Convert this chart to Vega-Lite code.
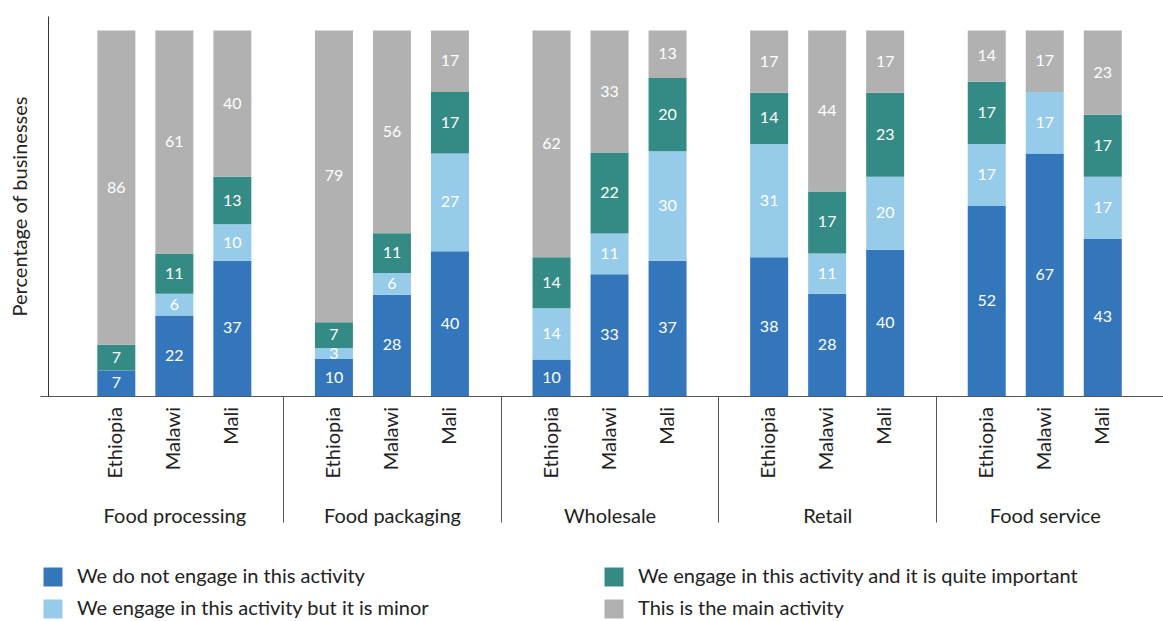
{
  "$schema": "https://vega.github.io/schema/vega-lite/v6.json",
  "width": 1123,
  "height": 380,
  "autosize": {"type": "none"},
  "padding": {"left": 40, "top": 16, "right": 0, "bottom": 225},
  "background": "white",
  "config": {"view": {"stroke": null}, "font": "Lato"},
  "data": {"values": [
    {"group": "Food processing", "country": "Ethiopia", "series": "We do not engage in this activity", "value": 7},
    {"group": "Food processing", "country": "Ethiopia", "series": "We engage in this activity but it is minor", "value": 0},
    {"group": "Food processing", "country": "Ethiopia", "series": "We engage in this activity and it is quite important", "value": 7},
    {"group": "Food processing", "country": "Ethiopia", "series": "This is the main activity", "value": 86},
    {"group": "Food processing", "country": "Malawi", "series": "We do not engage in this activity", "value": 22},
    {"group": "Food processing", "country": "Malawi", "series": "We engage in this activity but it is minor", "value": 6},
    {"group": "Food processing", "country": "Malawi", "series": "We engage in this activity and it is quite important", "value": 11},
    {"group": "Food processing", "country": "Malawi", "series": "This is the main activity", "value": 61},
    {"group": "Food processing", "country": "Mali", "series": "We do not engage in this activity", "value": 37},
    {"group": "Food processing", "country": "Mali", "series": "We engage in this activity but it is minor", "value": 10},
    {"group": "Food processing", "country": "Mali", "series": "We engage in this activity and it is quite important", "value": 13},
    {"group": "Food processing", "country": "Mali", "series": "This is the main activity", "value": 40},
    {"group": "Food packaging", "country": "Ethiopia", "series": "We do not engage in this activity", "value": 10},
    {"group": "Food packaging", "country": "Ethiopia", "series": "We engage in this activity but it is minor", "value": 3},
    {"group": "Food packaging", "country": "Ethiopia", "series": "We engage in this activity and it is quite important", "value": 7},
    {"group": "Food packaging", "country": "Ethiopia", "series": "This is the main activity", "value": 79},
    {"group": "Food packaging", "country": "Malawi", "series": "We do not engage in this activity", "value": 28},
    {"group": "Food packaging", "country": "Malawi", "series": "We engage in this activity but it is minor", "value": 6},
    {"group": "Food packaging", "country": "Malawi", "series": "We engage in this activity and it is quite important", "value": 11},
    {"group": "Food packaging", "country": "Malawi", "series": "This is the main activity", "value": 56},
    {"group": "Food packaging", "country": "Mali", "series": "We do not engage in this activity", "value": 40},
    {"group": "Food packaging", "country": "Mali", "series": "We engage in this activity but it is minor", "value": 27},
    {"group": "Food packaging", "country": "Mali", "series": "We engage in this activity and it is quite important", "value": 17},
    {"group": "Food packaging", "country": "Mali", "series": "This is the main activity", "value": 17},
    {"group": "Wholesale", "country": "Ethiopia", "series": "We do not engage in this activity", "value": 10},
    {"group": "Wholesale", "country": "Ethiopia", "series": "We engage in this activity but it is minor", "value": 14},
    {"group": "Wholesale", "country": "Ethiopia", "series": "We engage in this activity and it is quite important", "value": 14},
    {"group": "Wholesale", "country": "Ethiopia", "series": "This is the main activity", "value": 62},
    {"group": "Wholesale", "country": "Malawi", "series": "We do not engage in this activity", "value": 33},
    {"group": "Wholesale", "country": "Malawi", "series": "We engage in this activity but it is minor", "value": 11},
    {"group": "Wholesale", "country": "Malawi", "series": "We engage in this activity and it is quite important", "value": 22},
    {"group": "Wholesale", "country": "Malawi", "series": "This is the main activity", "value": 33},
    {"group": "Wholesale", "country": "Mali", "series": "We do not engage in this activity", "value": 37},
    {"group": "Wholesale", "country": "Mali", "series": "We engage in this activity but it is minor", "value": 30},
    {"group": "Wholesale", "country": "Mali", "series": "We engage in this activity and it is quite important", "value": 20},
    {"group": "Wholesale", "country": "Mali", "series": "This is the main activity", "value": 13},
    {"group": "Retail", "country": "Ethiopia", "series": "We do not engage in this activity", "value": 38},
    {"group": "Retail", "country": "Ethiopia", "series": "We engage in this activity but it is minor", "value": 31},
    {"group": "Retail", "country": "Ethiopia", "series": "We engage in this activity and it is quite important", "value": 14},
    {"group": "Retail", "country": "Ethiopia", "series": "This is the main activity", "value": 17},
    {"group": "Retail", "country": "Malawi", "series": "We do not engage in this activity", "value": 28},
    {"group": "Retail", "country": "Malawi", "series": "We engage in this activity but it is minor", "value": 11},
    {"group": "Retail", "country": "Malawi", "series": "We engage in this activity and it is quite important", "value": 17},
    {"group": "Retail", "country": "Malawi", "series": "This is the main activity", "value": 44},
    {"group": "Retail", "country": "Mali", "series": "We do not engage in this activity", "value": 40},
    {"group": "Retail", "country": "Mali", "series": "We engage in this activity but it is minor", "value": 20},
    {"group": "Retail", "country": "Mali", "series": "We engage in this activity and it is quite important", "value": 23},
    {"group": "Retail", "country": "Mali", "series": "This is the main activity", "value": 17},
    {"group": "Food service", "country": "Ethiopia", "series": "We do not engage in this activity", "value": 52},
    {"group": "Food service", "country": "Ethiopia", "series": "We engage in this activity but it is minor", "value": 17},
    {"group": "Food service", "country": "Ethiopia", "series": "We engage in this activity and it is quite important", "value": 17},
    {"group": "Food service", "country": "Ethiopia", "series": "This is the main activity", "value": 14},
    {"group": "Food service", "country": "Malawi", "series": "We do not engage in this activity", "value": 67},
    {"group": "Food service", "country": "Malawi", "series": "We engage in this activity but it is minor", "value": 17},
    {"group": "Food service", "country": "Malawi", "series": "We engage in this activity and it is quite important", "value": 0},
    {"group": "Food service", "country": "Malawi", "series": "This is the main activity", "value": 17},
    {"group": "Food service", "country": "Mali", "series": "We do not engage in this activity", "value": 43},
    {"group": "Food service", "country": "Mali", "series": "We engage in this activity but it is minor", "value": 17},
    {"group": "Food service", "country": "Mali", "series": "We engage in this activity and it is quite important", "value": 17},
    {"group": "Food service", "country": "Mali", "series": "This is the main activity", "value": 23}
  ]},
  "transform": [
    {"calculate": "indexof(['We do not engage in this activity','We engage in this activity but it is minor','We engage in this activity and it is quite important','This is the main activity'], datum.series)", "as": "ord"}
  ],
  "encoding": {
    "x": {
      "field": "group", "type": "nominal", "sort": null,
      "scale": {"paddingInner": 0, "paddingOuter": 0.0804, "align": 0.73},
      "axis": {
        "title": null, "labelAngle": 0, "labelFontSize": 20, "labelColor": "#222",
        "labelPadding": -16,
        "domainColor": "#555", "domainWidth": 1,
        "tickBand": "extent", "tickSize": 126, "tickColor": "#555",
        "tickOpacity": {"condition": {"test": "datum.value === 'Food service' || !datum.value", "value": 0}, "value": 1}
      }
    },
    "xOffset": {"field": "country", "type": "nominal", "sort": ["Ethiopia", "Malawi", "Mali"], "scale": {"paddingInner": 0.345, "paddingOuter": 0.548}}
  },
  "layer": [
    {
      "mark": {"type": "bar"},
      "encoding": {
        "y": {
          "field": "value", "type": "quantitative", "stack": "normalize",
          "scale": {"domain": [0, 1.04], "nice": false},
          "axis": {"title": "Percentage of businesses", "titleFontSize": 20, "titleFontWeight": "normal", "titleColor": "#222", "titlePadding": 18, "labels": false, "ticks": false, "grid": false, "domainColor": "#333", "offset": -8}
        },
        "order": {"field": "ord", "type": "quantitative"},
        "color": {
          "field": "series", "type": "nominal",
          "scale": {
            "domain": ["We do not engage in this activity", "We engage in this activity but it is minor", "We engage in this activity and it is quite important", "This is the main activity"],
            "range": ["#3476BC", "#97CBEA", "#348A85", "#B1B1B1"]
          },
          "legend": {
            "title": null, "orient": "none", "legendX": 3, "legendY": 551, "columns": 2, "columnPadding": 174,
            "rowPadding": 12, "symbolType": "square", "symbolSize": 361, "symbolStrokeWidth": 0,
            "labelFontSize": 20, "labelColor": "#222", "labelOffset": 14, "labelLimit": 600
          }
        }
      }
    },
    {
      "transform": [
        {"stack": "value", "groupby": ["group", "country"], "sort": [{"field": "ord"}], "offset": "normalize", "as": ["v0", "v1"]},
        {"calculate": "(datum.v0 + datum.v1) / 2", "as": "mid"},
        {"filter": "datum.value > 0"}
      ],
      "mark": {"type": "text", "color": "white", "fontSize": 16, "baseline": "middle"},
      "encoding": {
        "y": {"field": "mid", "type": "quantitative"},
        "text": {"field": "value", "type": "quantitative"}
      }
    },
    {
      "transform": [{"filter": "datum.ord === 0"}],
      "mark": {"type": "text", "angle": 270, "align": "right", "baseline": "middle", "dx": -11, "fontSize": 20, "color": "#222"},
      "encoding": {
        "y": {"datum": 0, "type": "quantitative"},
        "text": {"field": "country"}
      }
    }
  ]
}
